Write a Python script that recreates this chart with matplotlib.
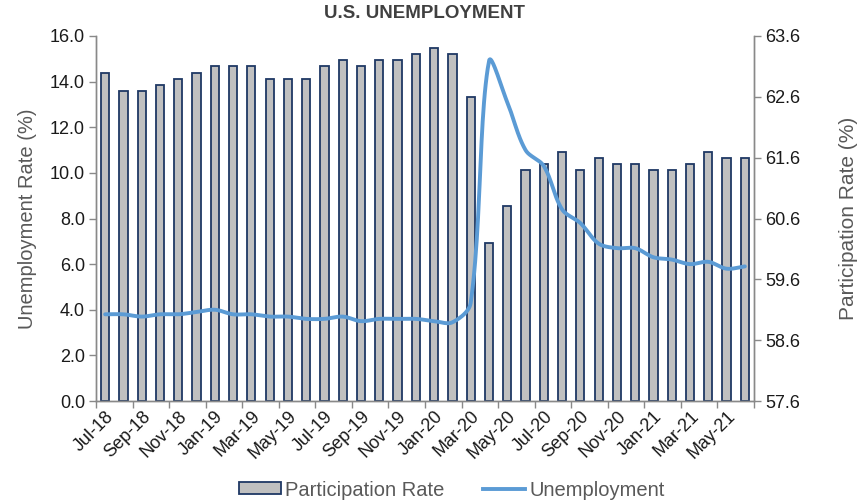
import numpy as np
import matplotlib
matplotlib.use("Agg")
import matplotlib.pyplot as plt
from matplotlib.patches import Patch
from matplotlib.lines import Line2D

plt.rcParams['font.family'] = ['Liberation Sans', 'DejaVu Sans']

months = ["Jul-18", "Aug-18", "Sep-18", "Oct-18", "Nov-18", "Dec-18",
          "Jan-19", "Feb-19", "Mar-19", "Apr-19", "May-19", "Jun-19",
          "Jul-19", "Aug-19", "Sep-19", "Oct-19", "Nov-19", "Dec-19",
          "Jan-20", "Feb-20", "Mar-20", "Apr-20", "May-20", "Jun-20",
          "Jul-20", "Aug-20", "Sep-20", "Oct-20", "Nov-20", "Dec-20",
          "Jan-21", "Feb-21", "Mar-21", "Apr-21", "May-21", "Jun-21"]

participation = [63.0, 62.7, 62.7, 62.8, 62.9, 63.0,
                 63.1, 63.1, 63.1, 62.9, 62.9, 62.9,
                 63.1, 63.2, 63.1, 63.2, 63.2, 63.3,
                 63.4, 63.3, 62.6, 60.2, 60.8, 61.4,
                 61.5, 61.7, 61.4, 61.6, 61.5, 61.5,
                 61.4, 61.4, 61.5, 61.7, 61.6, 61.6]

unemployment = [3.8, 3.8, 3.7, 3.8, 3.8, 3.9,
                4.0, 3.8, 3.8, 3.7, 3.7, 3.6,
                3.6, 3.7, 3.5, 3.6, 3.6, 3.6,
                3.5, 3.45, 4.3, 14.9, 13.1, 11.0,
                10.3, 8.4, 7.8, 6.9, 6.7, 6.7,
                6.3, 6.2, 6.0, 6.1, 5.8, 5.9]

left_ticks = [0, 2, 4, 6, 8, 10, 12, 14, 16]
right_ticks = [57.6, 58.6, 59.6, 60.6, 61.6, 62.6, 63.6]

W, H = 859, 504
L, R, T, B = 96, 754, 36, 401


def smooth_curve(xs, ys, sx, sy, n=24, tension=1/3):
    """Bezier smoothing in screen space (tangent length scaled by segment lengths)."""
    P = np.column_stack([np.asarray(xs, float) * sx, np.asarray(ys, float) * sy])
    m = len(P)
    segx, segy = [], []
    t = np.linspace(0, 1, n, endpoint=False)[:, None]
    for i in range(m - 1):
        p0 = P[i - 1] if i > 0 else P[i]
        p1, p2 = P[i], P[i + 1]
        p3 = P[i + 2] if i + 2 < m else P[i + 1]
        l01 = np.linalg.norm(p1 - p0); l12 = np.linalg.norm(p2 - p1); l23 = np.linalg.norm(p3 - p2)
        d1 = p2 - p0
        d2 = p3 - p1
        f1 = l12 / (l01 + l12) if (l01 + l12) > 0 else 0
        f2 = l12 / (l12 + l23) if (l12 + l23) > 0 else 0
        c1 = p1 + d1 * tension * f1
        c2 = p2 - d2 * tension * f2
        b = (1 - t) ** 3 * p1 + 3 * (1 - t) ** 2 * t * c1 + 3 * (1 - t) * t ** 2 * c2 + t ** 3 * p2
        segx.append(b[:, 0]); segy.append(b[:, 1])
    segx.append([P[-1, 0]]); segy.append([P[-1, 1]])
    return np.concatenate(segx) / sx, np.concatenate(segy) / sy


fig = plt.figure(figsize=(W / 100, H / 100), dpi=100)
ax = fig.add_axes([L / W, 1 - B / H, (R - L) / W, (B - T) / H])
ax2 = ax.twinx()

x = np.arange(len(months))
base = right_ticks[0]
ax.bar(x, np.array(participation) - base, bottom=base, width=0.45,
       color='#C0C0C0', edgecolor='#1F3864', linewidth=1.3, zorder=2)
ax.set_ylim(right_ticks[0], right_ticks[-1])
ax.set_xlim(-0.5, len(months) - 0.5)

px_per_x = (R - L) / len(months)
px_per_y = (B - T) / 16
sx_, sy_ = smooth_curve(x, unemployment, px_per_x, px_per_y)
ax2.plot(sx_, sy_, color='#5B9BD5', linewidth=2.8, solid_capstyle='round', zorder=3)
ax2.set_ylim(0, 16)

# axis sides: bars' scale on the right, line's scale on the left
ax.yaxis.tick_right()
ax.yaxis.set_label_position('right')
ax2.yaxis.tick_left()
ax2.yaxis.set_label_position('left')

ax.set_yticks(right_ticks)
ax.set_yticklabels([f"{v:.1f}" for v in right_ticks])
ax2.set_yticks(left_ticks)
ax2.set_yticklabels([f"{v:.1f}" for v in left_ticks])

spine_c = '#898989'
for a in (ax, ax2):
    a.spines['top'].set_visible(False)
    for s in ('left', 'right', 'bottom'):
        a.spines[s].set_color(spine_c)
        a.spines[s].set_linewidth(1.0)
    a.tick_params(axis='y', colors=spine_c, labelcolor='#1a1a1a', labelsize=13,
                  length=5, width=1.0, pad=3)

ax.set_xticks(np.arange(-0.5, len(months), 2))
ax.set_xticklabels([])
ax.tick_params(axis='x', which='major', length=5, color=spine_c, width=1.0)
ax.set_xticks(x[::2], minor=True)
ax.set_xticklabels(months[::2], minor=True, rotation=45, ha='right',
                   rotation_mode='anchor', fontsize=13, color='#1a1a1a')
ax.tick_params(axis='x', which='minor', length=0, pad=5)
ax2.tick_params(axis='x', which='both', length=0)

ax2.set_ylabel("Unemployment Rate (%)", fontsize=14.5, color='#595959', labelpad=9)
ax.set_ylabel("Participation Rate (%)", fontsize=15, color='#595959', labelpad=28)

fig.text(425 / W, 1 - 14 / H, "U.S. UNEMPLOYMENT", ha='center', va='center',
         fontsize=13.5, fontweight='bold', color='#404040')

handles = [Patch(facecolor='#C0C0C0', edgecolor='#1F3864', linewidth=1.3),
           Line2D([0], [0], color='#5B9BD5', linewidth=2.8)]
fig.legend(handles, ["Participation Rate", "Unemployment"], loc='center',
           bbox_to_anchor=(452 / W, 1 - 490 / H), ncol=2, frameon=False,
           fontsize=14.5, labelcolor='#595959', handlelength=2.1, handleheight=0.55,
           handletextpad=0.2, columnspacing=1.9)

fig.savefig("out.png", dpi=100)
